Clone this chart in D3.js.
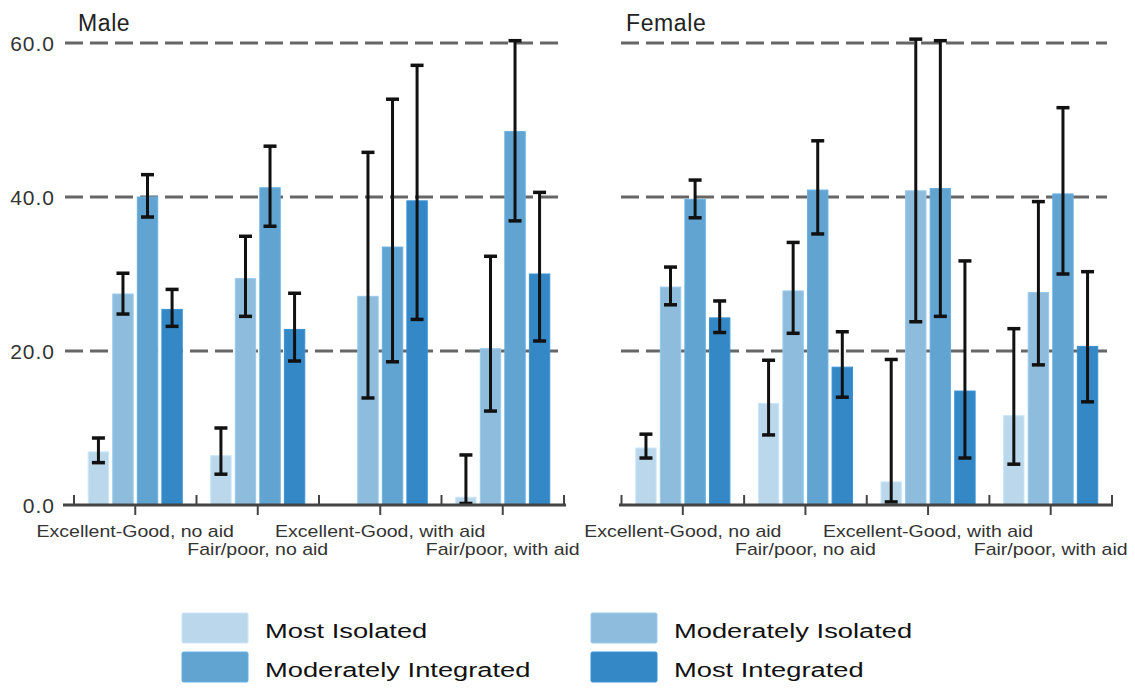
<!DOCTYPE html>
<html>
<head>
<meta charset="utf-8">
<script src="https://cdn.jsdelivr.net/npm/d3@7"></script>
<style>
  body { margin: 0; background: #fff; }
  svg { display: block; font-family: "Liberation Sans", Arial, sans-serif; }
</style>
</head>
<body>
<svg id="chart" width="1135" height="692"></svg>
<script>
// Datos
var categories = ["Excellent-Good, no aid", "Fair/poor, no aid", "Excellent-Good, with aid", "Fair/poor, with aid"];
var series = ["Most Isolated", "Moderately Isolated", "Moderately Integrated", "Most Integrated"];
var colors = ["#bbd7eb", "#8ebcdd", "#61a4d1", "#3488c6"];
var yTicks = [0, 20, 40, 60];

// una fila por categoría, una columna por serie
var maleMean = [[6.9, 27.4, 40.0, 25.4], [6.4, 29.4, 41.2, 22.8], [null, 27.1, 33.5, 39.5], [1.0, 20.3, 48.5, 30.0]];
var maleLow  = [[5.5, 24.8, 37.4, 23.2], [4.0, 24.5, 36.2, 18.7], [null, 13.9, 18.6, 24.1], [0.2, 12.2, 36.9, 21.3]];
var maleHigh = [[8.7, 30.1, 42.9, 28.0], [10.0, 34.9, 46.6, 27.5], [null, 45.8, 52.7, 57.1], [6.5, 32.3, 60.3, 40.6]];

var femaleMean = [[7.4, 28.3, 39.7, 24.3], [13.2, 27.8, 40.9, 17.9], [3.0, 40.8, 41.1, 14.8], [11.6, 27.6, 40.4, 20.6]];
var femaleLow  = [[6.1, 26.0, 37.3, 22.4], [9.1, 22.3, 35.2, 14.0], [0.4, 23.8, 24.5, 6.1], [5.3, 18.2, 30.0, 13.4]];
var femaleHigh = [[9.2, 30.9, 42.2, 26.5], [18.8, 34.1, 47.3, 22.5], [18.9, 60.5, 60.3, 31.7], [22.9, 39.4, 51.6, 30.3]];

var svg = d3.select("#chart");

var y = d3.scaleLinear().domain([0, 60]).range([505, 43]);

var panels = [
  { title: "Male", mean: maleMean, low: maleLow, high: maleHigh, range: [74, 564], grid: [65, 559], axis: [63, 566], titleX: 78, yLabels: true },
  { title: "Female", mean: femaleMean, low: femaleLow, high: femaleHigh, range: [621.5, 1112], grid: [621, 1107], axis: [619, 1113], titleX: 626, yLabels: false }
];

panels.forEach(function(p) {
  var g = svg.append("g");

  var x0 = d3.scaleBand().domain(categories).range(p.range).padding(0);
  var x1 = d3.scaleBand().domain(series).range([0, x0.bandwidth()])
      .paddingInner(0.17).paddingOuter(0.58);

  // líneas de referencia discontinuas
  g.selectAll(".grid")
    .data(yTicks.filter(function(t) { return t > 0; }))
    .enter().append("line")
    .attr("x1", p.grid[0]).attr("x2", p.grid[1])
    .attr("y1", function(d) { return y(d); }).attr("y2", function(d) { return y(d); })
    .attr("stroke", "#666").attr("stroke-width", 3)
    .attr("stroke-dasharray", "18,7");

  // etiquetas del eje y
  if (p.yLabels) {
    g.selectAll(".ylab")
      .data(yTicks)
      .enter().append("text")
      .attr("x", 55).attr("y", function(d) { return y(d); })
      .attr("dy", "0.36em")
      .attr("text-anchor", "end")
      .attr("font-size", 21)
      .attr("letter-spacing", 1)
      .attr("fill", "#333")
      .text(function(d) { return d3.format(".1f")(d); });
  }

  // título del panel
  g.append("text")
    .attr("x", p.titleX).attr("y", 31)
    .attr("font-size", 23)
    .attr("letter-spacing", 0.6)
    .attr("fill", "#222")
    .text(p.title);

  // barras
  var rows = [];
  categories.forEach(function(c, i) {
    series.forEach(function(s, j) {
      rows.push({ cat: c, ser: s, j: j, v: p.mean[i][j], lo: p.low[i][j], hi: p.high[i][j] });
    });
  });
  var valid = rows.filter(function(d) { return d.v !== null; });

  g.selectAll(".bar")
    .data(valid)
    .enter().append("rect")
    .attr("x", function(d) { return x0(d.cat) + x1(d.ser); })
    .attr("width", x1.bandwidth())
    .attr("y", function(d) { return y(d.v); })
    .attr("height", function(d) { return y(0) - y(d.v); })
    .attr("fill", function(d) { return colors[d.j]; })
    .attr("stroke", function(d) { return d3.color(colors[d.j]).brighter(0.2); })
    .attr("stroke-width", 1);

  // barras de error
  var eb = g.selectAll(".err").data(valid).enter().append("g")
    .attr("transform", function(d) { return "translate(" + (x0(d.cat) + x1(d.ser) + x1.bandwidth() / 2) + ",0)"; });
  eb.append("line")
    .attr("y1", function(d) { return y(d.lo); }).attr("y2", function(d) { return y(d.hi); })
    .attr("stroke", "#111").attr("stroke-width", 3);
  eb.append("line")
    .attr("x1", -6.5).attr("x2", 6.5)
    .attr("y1", function(d) { return y(d.hi); }).attr("y2", function(d) { return y(d.hi); })
    .attr("stroke", "#111").attr("stroke-width", 3.5);
  eb.append("line")
    .attr("x1", -6.5).attr("x2", 6.5)
    .attr("y1", function(d) { return y(d.lo); }).attr("y2", function(d) { return y(d.lo); })
    .attr("stroke", "#111").attr("stroke-width", 3.5);

  // eje x
  g.append("line")
    .attr("x1", p.axis[0]).attr("x2", p.axis[1])
    .attr("y1", y(0)).attr("y2", y(0))
    .attr("stroke", "#444").attr("stroke-width", 3);

  var bounds = categories.map(function(c) { return x0(c); }).concat([p.range[1]]);
  g.selectAll(".btick")
    .data(bounds)
    .enter().append("line")
    .attr("x1", function(d) { return d; }).attr("x2", function(d) { return d; })
    .attr("y1", y(0) - 10).attr("y2", y(0))
    .attr("stroke", "#444").attr("stroke-width", 2);

  g.selectAll(".ctick")
    .data(categories)
    .enter().append("line")
    .attr("x1", function(d) { return x0(d) + x0.bandwidth() / 2; })
    .attr("x2", function(d) { return x0(d) + x0.bandwidth() / 2; })
    .attr("y1", y(0)).attr("y2", y(0) + 10)
    .attr("stroke", "#444").attr("stroke-width", 2);

  g.selectAll(".xlab")
    .data(categories)
    .enter().append("text")
    .attr("transform", function(d, i) {
      return "translate(" + (x0(d) + x0.bandwidth() / 2) + "," + (i % 2 === 0 ? 537 : 555) + ") scale(1.22,1)";
    })
    .attr("text-anchor", "middle")
    .attr("font-size", 16)
    .attr("fill", "#333")
    .text(function(d) { return d; });
});

// leyenda
var legendPos = [[182, 613], [591, 613], [182, 652], [591, 652]];
var legend = svg.selectAll(".legend")
  .data(series)
  .enter().append("g")
  .attr("transform", function(d, i) { return "translate(" + legendPos[i][0] + "," + legendPos[i][1] + ")"; });

legend.append("rect")
  .attr("width", 66).attr("height", 30)
  .attr("rx", 1.5)
  .attr("fill", function(d, i) { return colors[i]; })
  .attr("stroke", function(d, i) { return d3.color(colors[i]).brighter(0.2); });

legend.append("text")
  .attr("transform", "translate(83,25) scale(1.3,1)")
  .attr("font-size", 21)
  .attr("fill", "#111")
  .text(function(d) { return d; });
</script>
</body>
</html>
